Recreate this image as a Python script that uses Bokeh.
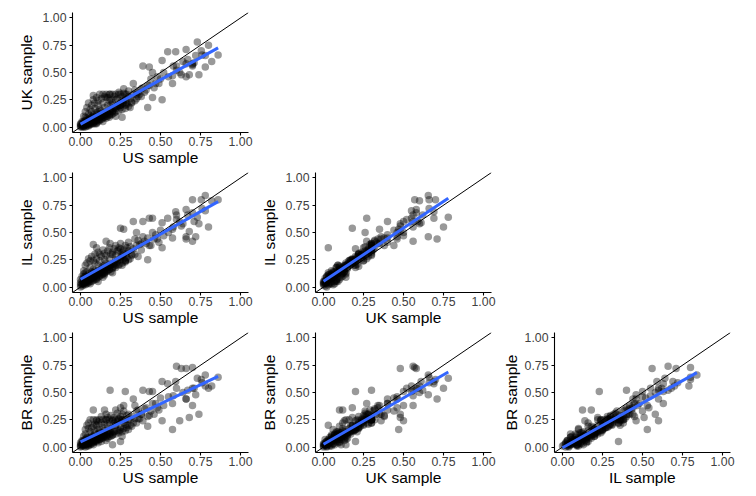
import numpy as np
from bokeh.plotting import figure
from bokeh.layouts import gridplot
from bokeh.models import Range1d, FixedTicker, NumeralTickFormatter, Slope
from bokeh.embed import file_html
from bokeh.resources import INLINE

# Per-item proportions in the four samples (same item order in every list)
US = [0.86, 0.80, 0.73, 0.755, 0.74, 0.68, 0.63, 0.71, 0.78, 0.595,
      0.545, 0.51, 0.70, 0.39, 0.43, 0.42, 0.51, 0.575, 0.26, 0.08,
      0.575, 0.66, 0.78, 0.33, 0.27, 0.16, 0.185, 0.45, 0.45, 0.25,
      0.10, 0.66, 0.72, 0.70, 0.35, 0.22, 0.20, 0.28, 0.15, 0.25,
      0.62, 0.60, 0.66, 0.82,
      0.30, 0.32, 0.35, 0.38, 0.40, 0.42, 0.44, 0.47, 0.48, 0.50,
      0.52, 0.55, 0.58, 0.60, 0.64, 0.67, 0.70, 0.76, 0.36, 0.34,
      0.31, 0.29, 0.27, 0.26, 0.25, 0.24, 0.23, 0.22, 0.21, 0.20,
      0.19, 0.18, 0.17, 0.16, 0.15, 0.14, 0.13, 0.12, 0.11, 0.10,
      0.09, 0.08, 0.07, 0.06, 0.05, 0.04, 0.03, 0.02, 0.01, 0.00,
      0.00, 0.01, 0.02, 0.03, 0.04, 0.05, 0.06, 0.07, 0.08, 0.09,
      0.10, 0.11, 0.12, 0.13, 0.14, 0.15, 0.16, 0.17, 0.18, 0.20,
      0.02, 0.03, 0.04, 0.05, 0.06, 0.07, 0.08, 0.09, 0.10, 0.11,
      0.12, 0.13, 0.14, 0.15, 0.00, 0.01, 0.02, 0.03, 0.04, 0.05,
      0.06, 0.07, 0.08, 0.09, 0.01, 0.02, 0.03, 0.04, 0.05, 0.06,
      0.00, 0.11, 0.19, 0.22, 0.24, 0.26, 0.28,
      0.02, 0.03, 0.04, 0.05, 0.06, 0.07, 0.08, 0.09, 0.10, 0.11,
      0.12, 0.13, 0.14, 0.15, 0.16, 0.17, 0.18, 0.19, 0.20, 0.21,
      0.22, 0.23, 0.24, 0.25, 0.26, 0.27, 0.28, 0.29, 0.30, 0.31,
      0.02, 0.03, 0.04, 0.05, 0.06, 0.07, 0.08, 0.09, 0.10, 0.11,
      0.12, 0.13, 0.14, 0.15, 0.16, 0.17, 0.18, 0.19, 0.20, 0.21,
      0.22, 0.23, 0.24, 0.25, 0.26, 0.27, 0.28, 0.29, 0.30, 0.32,
      0.01, 0.02, 0.03, 0.04, 0.05, 0.06, 0.07, 0.08, 0.09, 0.10,
      0.11, 0.12, 0.13, 0.14, 0.15, 0.16, 0.17, 0.18, 0.19, 0.21,
      0.33, 0.34, 0.36, 0.37, 0.38, 0.39, 0.41, 0.43, 0.46, 0.49]

UK = [0.66, 0.75, 0.78, 0.70, 0.48, 0.48, 0.48, 0.59, 0.655, 0.69,
      0.69, 0.61, 0.57, 0.56, 0.55, 0.18, 0.25, 0.47, 0.09, 0.29,
      0.40, 0.46, 0.55, 0.40, 0.35, 0.27, 0.30, 0.50, 0.27, 0.18,
      0.03, 0.71, 0.655, 0.56, 0.26, 0.10, 0.14, 0.20, 0.12, 0.20,
      0.50, 0.56, 0.58, 0.60,
      0.28, 0.22, 0.30, 0.35, 0.32, 0.38, 0.44, 0.40, 0.46, 0.44,
      0.50, 0.46, 0.56, 0.52, 0.60, 0.62, 0.58, 0.66, 0.28, 0.34,
      0.18, 0.30, 0.24, 0.28, 0.22, 0.30, 0.20, 0.25, 0.18, 0.22,
      0.16, 0.24, 0.20, 0.14, 0.18, 0.22, 0.12, 0.16, 0.20, 0.13,
      0.17, 0.10, 0.14, 0.08, 0.12, 0.06, 0.09, 0.04, 0.02, 0.01,
      0.00, 0.00, 0.01, 0.02, 0.03, 0.02, 0.04, 0.05, 0.03, 0.06,
      0.08, 0.05, 0.09, 0.07, 0.11, 0.09, 0.13, 0.10, 0.12, 0.15,
      0.05, 0.04, 0.08, 0.06, 0.10, 0.07, 0.11, 0.09, 0.04, 0.10,
      0.06, 0.15, 0.08, 0.13, 0.03, 0.05, 0.02, 0.06, 0.01, 0.04,
      0.02, 0.09, 0.06, 0.03, 0.01, 0.03, 0.00, 0.04, 0.07, 0.05,
      0.02, 0.14, 0.21, 0.17, 0.19, 0.21, 0.25,
      0.10, 0.14, 0.18, 0.22, 0.16, 0.20, 0.25, 0.22, 0.27, 0.24,
      0.30, 0.26, 0.30, 0.28, 0.30, 0.27, 0.30, 0.25, 0.30, 0.28,
      0.30, 0.26, 0.32, 0.30, 0.24, 0.31, 0.30, 0.22, 0.33, 0.26,
      0.01, 0.03, 0.02, 0.04, 0.03, 0.05, 0.04, 0.07, 0.06, 0.09,
      0.07, 0.10, 0.09, 0.12, 0.10, 0.13, 0.11, 0.15, 0.12, 0.17,
      0.14, 0.19, 0.15, 0.20, 0.16, 0.22, 0.17, 0.21, 0.19, 0.23,
      0.04, 0.00, 0.03, 0.05, 0.01, 0.07, 0.03, 0.08, 0.05, 0.11,
      0.07, 0.12, 0.10, 0.05, 0.11, 0.08, 0.13, 0.09, 0.11, 0.13,
      0.30, 0.24, 0.32, 0.30, 0.28, 0.36, 0.34, 0.38, 0.36, 0.40]

IL = [0.80, 0.55, 0.64, 0.80, 0.58, 0.51, 0.56, 0.60, 0.84, 0.69,
      0.63, 0.59, 0.80, 0.60, 0.63, 0.25, 0.36, 0.53, 0.20, 0.39,
      0.45, 0.46, 0.70, 0.60, 0.53, 0.42, 0.40, 0.50, 0.63, 0.54,
      0.36, 0.44, 0.46, 0.42, 0.50, 0.18, 0.13, 0.23, 0.125, 0.35,
      0.60, 0.66, 0.71, 0.79,
      0.33, 0.30, 0.38, 0.40, 0.42, 0.45, 0.38, 0.48, 0.44, 0.52,
      0.47, 0.50, 0.55, 0.62, 0.58, 0.66, 0.68, 0.72, 0.28, 0.44,
      0.26, 0.36, 0.30, 0.32, 0.27, 0.34, 0.24, 0.29, 0.22, 0.30,
      0.20, 0.26, 0.18, 0.22, 0.25, 0.19, 0.16, 0.24, 0.20, 0.14,
      0.22, 0.16, 0.12, 0.18, 0.10, 0.14, 0.08, 0.12, 0.06, 0.04,
      0.02, 0.03, 0.05, 0.04, 0.07, 0.06, 0.09, 0.08, 0.11, 0.10,
      0.07, 0.12, 0.15, 0.11, 0.17, 0.13, 0.14, 0.19, 0.16, 0.17,
      0.08, 0.10, 0.05, 0.12, 0.07, 0.14, 0.09, 0.13, 0.08, 0.15,
      0.10, 0.18, 0.12, 0.20, 0.07, 0.03, 0.09, 0.02, 0.06, 0.04,
      0.10, 0.05, 0.13, 0.07, 0.01, 0.02, 0.05, 0.03, 0.09, 0.05,
      0.00, 0.09, 0.21, 0.25, 0.20, 0.28, 0.24,
      0.15, 0.20, 0.22, 0.26, 0.24, 0.28, 0.24, 0.30, 0.26, 0.32,
      0.30, 0.28, 0.34, 0.31, 0.29, 0.33, 0.36, 0.30, 0.32, 0.35,
      0.38, 0.33, 0.36, 0.40, 0.29, 0.34, 0.38, 0.31, 0.41, 0.37,
      0.03, 0.06, 0.04, 0.08, 0.07, 0.10, 0.08, 0.12, 0.10, 0.13,
      0.11, 0.15, 0.13, 0.16, 0.15, 0.18, 0.16, 0.20, 0.18, 0.21,
      0.20, 0.23, 0.21, 0.25, 0.22, 0.26, 0.24, 0.27, 0.25, 0.29,
      0.10, 0.04, 0.13, 0.10, 0.08, 0.03, 0.11, 0.06, 0.15, 0.12,
      0.05, 0.13, 0.16, 0.09, 0.11, 0.18, 0.15, 0.20, 0.14, 0.19,
      0.35, 0.30, 0.43, 0.39, 0.34, 0.46, 0.40, 0.38, 0.44, 0.41]

BR = [0.64, 0.54, 0.63, 0.62, 0.30, 0.27, 0.72, 0.54, 0.66, 0.60,
      0.58, 0.60, 0.73, 0.52, 0.51, 0.19, 0.24, 0.16, 0.10, 0.34,
      0.40, 0.44, 0.56, 0.44, 0.38, 0.30, 0.52, 0.51, 0.40, 0.36,
      0.20, 0.44, 0.48, 0.38, 0.33, 0.34, 0.02, 0.51, 0.34, 0.05,
      0.24, 0.74, 0.72, 0.56,
      0.25, 0.28, 0.22, 0.30, 0.35, 0.28, 0.33, 0.40, 0.36, 0.45,
      0.38, 0.46, 0.47, 0.54, 0.50, 0.52, 0.54, 0.59, 0.26, 0.38,
      0.20, 0.29, 0.22, 0.30, 0.18, 0.26, 0.24, 0.20, 0.27, 0.24,
      0.17, 0.22, 0.19, 0.25, 0.15, 0.18, 0.22, 0.13, 0.16, 0.24,
      0.12, 0.19, 0.09, 0.14, 0.17, 0.08, 0.12, 0.05, 0.03, 0.02,
      0.00, 0.01, 0.02, 0.00, 0.03, 0.05, 0.02, 0.06, 0.04, 0.08,
      0.05, 0.10, 0.07, 0.11, 0.09, 0.12, 0.06, 0.13, 0.15, 0.11,
      0.06, 0.04, 0.09, 0.03, 0.07, 0.11, 0.02, 0.14, 0.09, 0.04,
      0.16, 0.08, 0.13, 0.10, 0.04, 0.06, 0.01, 0.03, 0.07, 0.01,
      0.05, 0.04, 0.08, 0.06, 0.02, 0.04, 0.02, 0.05, 0.02, 0.09,
      0.01, 0.07, 0.14, 0.20, 0.15, 0.25, 0.21,
      0.10, 0.16, 0.20, 0.22, 0.25, 0.18, 0.25, 0.21, 0.25, 0.23,
      0.25, 0.28, 0.25, 0.21, 0.25, 0.27, 0.25, 0.29, 0.25, 0.22,
      0.25, 0.31, 0.25, 0.28, 0.25, 0.33, 0.25, 0.20, 0.30, 0.25,
      0.02, 0.05, 0.03, 0.06, 0.04, 0.07, 0.05, 0.08, 0.06, 0.09,
      0.07, 0.10, 0.08, 0.11, 0.09, 0.12, 0.10, 0.13, 0.11, 0.14,
      0.12, 0.15, 0.13, 0.16, 0.14, 0.17, 0.15, 0.18, 0.16, 0.19,
      0.05, 0.03, 0.07, 0.01, 0.04, 0.06, 0.03, 0.10, 0.05, 0.07,
      0.12, 0.09, 0.05, 0.11, 0.13, 0.10, 0.08, 0.12, 0.10, 0.14,
      0.22, 0.26, 0.34, 0.26, 0.30, 0.24, 0.36, 0.29, 0.30, 0.34]

assert len(US) == len(UK) == len(IL) == len(BR)

TICKS = [0.0, 0.25, 0.50, 0.75, 1.0]
FONT = "Liberation Sans"


def make_panel(x, y, xlab, ylab, left, right, top, bottom, ystand=5):
    x = np.asarray(x, dtype=float)
    y = np.asarray(y, dtype=float)
    p = figure(frame_width=176, frame_height=120,
               x_range=Range1d(-0.05, 1.05), y_range=Range1d(-0.05, 1.05),
               min_border_left=left, min_border_right=right,
               min_border_top=top, min_border_bottom=bottom,
               output_backend="svg", toolbar_location=None)
    p.outline_line_color = None
    p.xgrid.visible = False
    p.ygrid.visible = False
    p.scatter(x, y, size=7.5, fill_color="black", fill_alpha=0.4, line_color=None)
    p.add_layout(Slope(gradient=1, y_intercept=0, line_color="black", line_width=1))
    m, b = np.polyfit(x, y, 1)
    xs = np.array([x.min(), x.max()])
    r = p.line(xs, m * xs + b, line_color="#3366FF", line_width=3)
    r.level = "overlay"
    for ax, lab, st, lst in ((p.xaxis[0], xlab, 0, 1), (p.yaxis[0], ylab, ystand, 3)):
        ax.ticker = FixedTicker(ticks=TICKS)
        ax.formatter = NumeralTickFormatter(format="0.00")
        ax.axis_line_color = "black"
        ax.axis_line_width = 1.1
        ax.major_tick_line_color = "black"
        ax.major_tick_line_width = 1.1
        ax.major_tick_in = 0
        ax.major_tick_out = 3
        ax.minor_tick_line_color = None
        ax.major_label_text_font = FONT
        ax.major_label_text_font_size = "12.3px"
        ax.major_label_text_color = "#404040"
        ax.major_label_standoff = lst
        ax.axis_label = lab
        ax.axis_label_text_font = FONT
        ax.axis_label_text_font_size = "15.5px"
        ax.axis_label_text_font_style = "normal"
        ax.axis_label_text_color = "black"
        ax.axis_label_standoff = st
    return p


p1 = make_panel(US, UK, "US sample", "UK sample", 72, 7, 12, 37)
p2 = make_panel(US, IL, "US sample", "IL sample", 72, 7, 3, 37)
p3 = make_panel(UK, IL, "UK sample", "IL sample", 60, 7, 3, 37)
p4 = make_panel(US, BR, "US sample", "BR sample", 72, 7, 3, 37)
p5 = make_panel(UK, BR, "UK sample", "BR sample", 60, 7, 3, 37)
p6 = make_panel(IL, BR, "IL sample", "BR sample", 56, 10, 3, 37, ystand=2)

grid = gridplot([[p1, None, None], [p2, p3, None], [p4, p5, p6]],
                toolbar_location=None)

open("out.html", "w").write(file_html(grid, INLINE))
